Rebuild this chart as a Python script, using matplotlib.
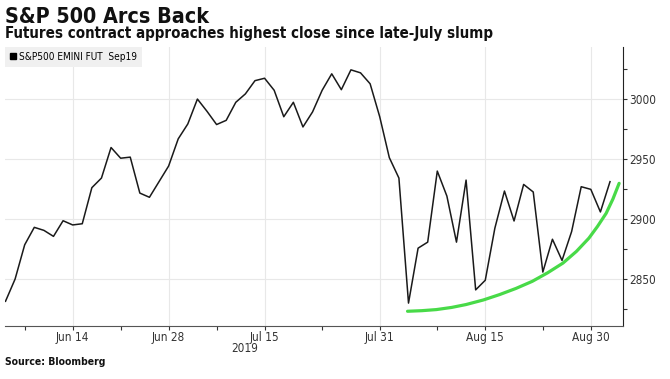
import matplotlib
matplotlib.use("Agg")
import matplotlib.pyplot as plt
from matplotlib.lines import Line2D
import pandas as pd

# Trading days Jun 5 - Sep 4 2019 (US holidays removed)
days = pd.bdate_range("2019-06-05", "2019-09-04")
days = days[~days.isin(pd.to_datetime(["2019-07-04", "2019-09-02"]))]

close = [
    2831.5, 2850, 2878.5, 2893, 2890.5, 2885.5, 2898.5, 2895, 2896, 2926,
    2934, 2959.4, 2950.5, 2951.4, 2921.5, 2918, 2931, 2944, 2966.6, 2979,
    2999.7, 2989.5, 2978.5, 2982, 2997, 3004, 3015, 3017, 3007, 2985,
    2997, 2976.5, 2989, 3007, 3020.7, 3007.5, 3024, 3021.5, 3012.4, 2985,
    2951, 2934, 2830, 2875.7, 2880.7, 2939.8, 2919, 2880.7, 2932.3, 2841,
    2849, 2892.3, 2923.2, 2898.3, 2928.7, 2922.4, 2855.8, 2883.1, 2865.5, 2889.5,
    2926.8, 2924.6, 2905.8, 2931,
]

# hand-drawn arc (trading-day position, level)
arc_pos = [41.9, 43.4, 44.9, 46.5, 48.0, 49.8, 51.5, 53.2, 54.9, 56.5,
           58.1, 59.5, 60.8, 61.7, 62.6, 63.3, 63.95]
arc_val = [2823.2, 2823.7, 2824.6, 2826.4, 2828.8, 2832.6, 2837.1, 2842.2, 2848.1, 2855.2,
           2863.3, 2873.0, 2884.0, 2893.8, 2904.7, 2916.5, 2929.6]

tick_dates = ["2019-06-14", "2019-06-28", "2019-07-15", "2019-07-31", "2019-08-15", "2019-08-30"]
tick_labels = ["Jun 14", "Jun 28", "Jul 15", "Jul 31", "Aug 15", "Aug 30"]
minor_dates = ["2019-06-07", "2019-06-21", "2019-07-08", "2019-07-23", "2019-08-08", "2019-08-23"]
yticks = [2850, 2900, 2950, 3000]

plt.rcParams["font.family"] = ["DejaVu Sans"]
plt.rcParams["font.stretch"] = "condensed"

x = list(range(len(close)))
major = [days.get_loc(pd.Timestamp(d)) for d in tick_dates]
minor = [days.get_loc(pd.Timestamp(d)) for d in minor_dates]

fig = plt.figure(figsize=(6.7, 3.79), dpi=100)
ax = fig.add_axes([0.0075, 0.140, 0.923, 0.736])

ax.plot(x, close, color="#1a1a1a", lw=1.1, zorder=3)
ax.plot(arc_pos, arc_val, color="#48da48", lw=2.3, solid_capstyle="round",
        solid_joinstyle="round", zorder=2)

ax.set_xlim(-0.05, 64.4)
ax.set_ylim(2811, 3043)

ax.set_xticks(major)
ax.set_xticklabels(tick_labels)
ax.set_xticks(minor, minor=True)
ax.set_yticks(yticks)
ax.set_yticks([2825, 2875, 2925, 2975, 3025], minor=True)
ax.yaxis.tick_right()
ax.tick_params(axis="both", which="both", labelsize=8.5, colors="#333333", length=3, width=0.8)
ax.tick_params(axis="x", which="major", pad=1)
ax.tick_params(axis="y", which="major", pad=1)

ax.grid(True, which="major", color="#e8e8e8", lw=0.8)
ax.set_axisbelow(True)
for s in ["top", "left"]:
    ax.spines[s].set_visible(False)
ax.spines["right"].set_color("#222222")
ax.spines["bottom"].set_color("#555555")

handle = Line2D([], [], marker="s", color="none", markerfacecolor="black",
                markeredgecolor="black", markersize=5)
leg = ax.legend([handle], ["S&P500 EMINI FUT  Sep19"], loc="upper left",
                bbox_to_anchor=(0.0, 1.0), fontsize=7.2, frameon=True,
                handlelength=0.6, handletextpad=0.3, borderpad=0.5,
                borderaxespad=0.0, fancybox=False)
leg.get_frame().set_facecolor("#f0f0f0")
leg.get_frame().set_edgecolor("none")
leg.get_frame().set_alpha(1)

fig.text(0.0075, 1 - 23 / 379, "S&P 500 Arcs Back", fontsize=15.4, fontweight="bold",
         color="#111111", va="baseline", ha="left")
fig.text(0.0075, 1 - 38 / 379, "Futures contract approaches highest close since late-July slump",
         fontsize=10.8, fontweight="bold", color="#111111", va="baseline", ha="left")
fig.text(245 / 670, 1 - 348 / 379, "2019", fontsize=8.5, color="#333333", ha="center", va="center")
fig.text(0.0075, 1 - 362 / 379, "Source: Bloomberg", fontsize=7.5, fontweight="bold",
         color="#111111", ha="left", va="center")

fig.savefig("out.png", dpi=100)
